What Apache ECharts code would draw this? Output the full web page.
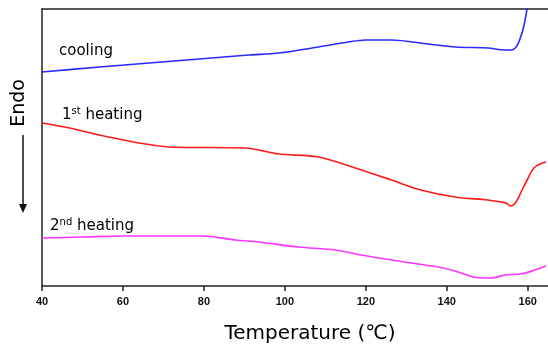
<!DOCTYPE html>
<html>
<head>
<meta charset="utf-8">
<script src="https://cdn.jsdelivr.net/npm/echarts@6/dist/echarts.min.js"></script>
<style>
  html, body { margin: 0; padding: 0; background: #fff; }
  #chart { width: 548px; height: 347px; }
</style>
</head>
<body>
<div id="chart"></div>
<script>
// DSC traces, heat flow in arbitrary units
const coolingT = [40, 54.2, 66.5, 78.8, 91.1, 98.5, 108.3, 115.7, 119.9, 126.3, 135.4, 142.1, 150.2, 154.4, 155.9, 156.9, 157.8, 159.1, 160.3];
const coolingV = [214, 219, 223, 227, 231, 233, 239, 244, 246, 246, 242, 239, 238, 236, 236, 238, 244, 261, 290];

const heat1T = [40, 46.8, 54.2, 64.0, 71.4, 90.4, 98.5, 108.3, 118.9, 126.3, 133.6, 142.0, 150.1, 153.4, 154.6, 155.8, 157.1, 158.6, 160.1, 161.5, 163.0, 164.5];
const heat1V = [163, 158, 151, 143, 139, 138, 132, 129, 116, 106, 96, 89, 86, 84, 83, 80, 84, 96, 108, 118, 122, 124];

const heat2T = [40, 50, 60, 79.5, 87.9, 93.6, 103.4, 112.5, 118.9, 128.0, 137.9, 142.8, 146.5, 151.0, 154.4, 158.3, 161.8, 164.5];
const heat2V = [48, 49, 50, 50, 46, 44, 39, 36, 31, 25, 19, 14, 9, 8, 11, 12, 16, 20];

const tickValues = [40, 60, 80, 100, 120, 140, 160];

const pairs = (xs, ys) => xs.map((x, i) => [x, ys[i]]);

const chart = echarts.init(document.getElementById('chart'));

function lineSeries(data, color) {
    return {
        type: 'line',
        data: data,
        showSymbol: false,
        smooth: 0.3,
        clip: true,
        lineStyle: { color: color, width: 1.6 },
        silent: true
    };
}

const txt = { fontFamily: 'DejaVu Sans', fontSize: 15, color: '#111' };
const sup = { fontFamily: 'DejaVu Sans', fontSize: 10, color: '#111', verticalAlign: 'top', padding: [0, 0, 8, 0] };

chart.setOption({
    animation: false,
    grid: { left: 42, top: 9, right: 0, bottom: 61 },
    xAxis: [{
        type: 'value',
        min: 40,
        max: 165,
        interval: 20,
        splitLine: { show: false },
        axisLine: { lineStyle: { color: '#222', width: 1.5 } },
        axisTick: { length: 5, customValues: tickValues, lineStyle: { color: '#222', width: 1.5 } },
        axisLabel: {
            customValues: tickValues,
            margin: 10,
            fontFamily: 'Liberation Sans',
            fontWeight: 'bold',
            fontSize: 11,
            color: '#111'
        }
    }, {
        type: 'value',
        position: 'top',
        min: 40,
        max: 165,
        splitLine: { show: false },
        axisLine: { show: true, lineStyle: { color: '#222', width: 1.5 } },
        axisTick: { show: false },
        axisLabel: { show: false }
    }],
    yAxis: {
        type: 'value',
        min: 0,
        max: 277,
        splitLine: { show: false },
        axisLine: { show: true, lineStyle: { color: '#222', width: 1.5 } },
        axisTick: { show: false },
        axisLabel: { show: false }
    },
    series: [
        lineSeries(pairs(coolingT, coolingV), '#2a2aff'),
        lineSeries(pairs(heat1T, heat1V), '#ff1a1a'),
        lineSeries(pairs(heat2T, heat2V), '#ff33ff')
    ],
    graphic: [
        {
            type: 'text', x: 59, y: 51,
            style: Object.assign({ text: 'cooling', verticalAlign: 'middle' }, txt)
        },
        {
            type: 'text', x: 62, y: 115,
            style: { text: '{n|1}{s|st}{n| heating}', verticalAlign: 'middle', rich: { n: txt, s: sup } }
        },
        {
            type: 'text', x: 50, y: 226,
            style: { text: '{n|2}{s|nd}{n| heating}', verticalAlign: 'middle', rich: { n: txt, s: sup } }
        },
        {
            type: 'text', x: 19, y: 103, rotation: Math.PI / 2,
            style: { text: 'Endo', fontFamily: 'DejaVu Sans', fontSize: 19, color: '#111', align: 'center', verticalAlign: 'middle' }
        },
        {
            type: 'line',
            shape: { x1: 23, y1: 135, x2: 23, y2: 206 },
            style: { stroke: '#111', lineWidth: 1.5 }
        },
        {
            type: 'polygon',
            shape: { points: [[19, 204], [27, 204], [23, 213]] },
            style: { fill: '#111' }
        },
        {
            type: 'text', x: 310, y: 334,
            style: { text: 'Temperature (℃)', fontFamily: 'DejaVu Sans', fontSize: 20, color: '#111', align: 'center', verticalAlign: 'middle' }
        }
    ]
});
</script>
</body>
</html>
